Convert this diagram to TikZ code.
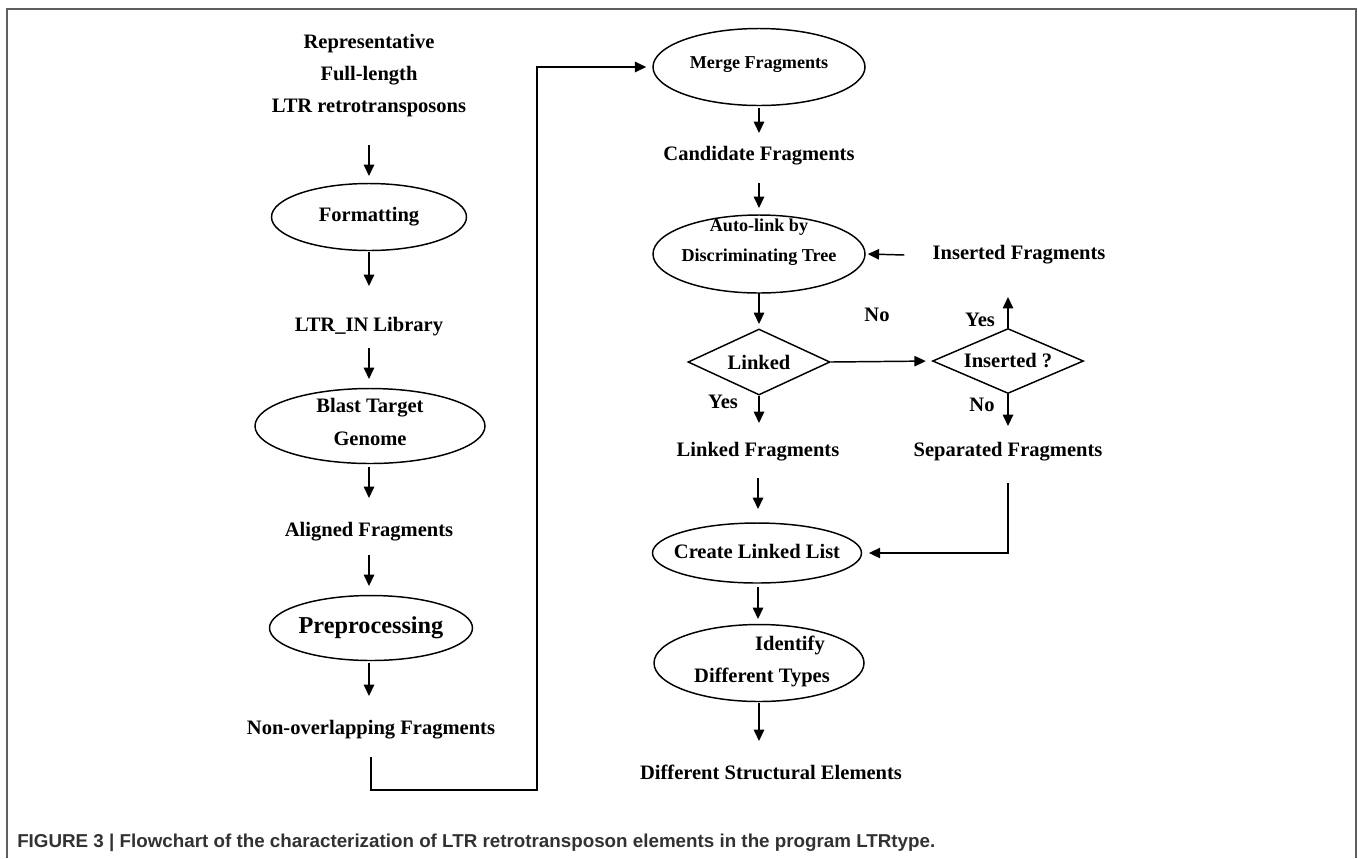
\documentclass[tikz,border=0pt]{standalone}
\usepackage{fontspec}
\setmainfont{Liberation Serif}
\setsansfont{Liberation Sans}
\usepackage{graphicx}
\usetikzlibrary{shapes.geometric,arrows.meta}
\definecolor{framegray}{RGB}{95,95,95}
\definecolor{capgray}{RGB}{50,50,50}
\begin{document}
\begin{tikzpicture}[x=0.75pt,y=-0.75pt,
  txt/.style={inner sep=0pt, align=center, font=\bfseries\fontsize{15.4}{24}\selectfont},
  smalltxt/.style={inner sep=0pt, align=center, font=\bfseries\fontsize{13.6}{20}\selectfont},
  bigtxt/.style={inner sep=0pt, align=center, font=\bfseries\fontsize{18.2}{24}\selectfont},
  ell/.style={draw, ellipse, line width=1.1pt, inner sep=0pt},
  dia/.style={draw, diamond, line width=1.1pt, inner sep=0pt},
  arr/.style={line width=1.1pt, -{Triangle[length=8.5pt,width=7.8pt]}},
  conn/.style={line width=1.1pt}]
\useasboundingbox (0,0) rectangle (1358,858);
\draw[framegray, line width=1.1pt] (7,858) -- (7,9) -- (1356,9) -- (1356,858);

% ---------- left column ----------
\node[txt] (rep) at (369,76) {Representative\\Full-length\\LTR retrotransposons};
\node[ell, minimum width=146.25pt, minimum height=50.25pt] (fmt) at (369,217) {};
\node[txt] (fmtT) at (fmt.center) {Formatting};
\node[txt] (lib) at (369,327) {LTR\_IN Library};
\node[ell, minimum width=172.5pt, minimum height=56.25pt] (blast) at (370,426) {};
\node[txt, font=\bfseries\fontsize{15.4}{24.75}\selectfont] (blastT) at (370,422) {Blast Target\\Genome};
\node[txt] (aligned) at (369,532) {Aligned Fragments};
\node[ell, minimum width=152.25pt, minimum height=48.75pt] (pre) at (371,628) {};
\node[bigtxt] (preT) at (pre.center) {Preprocessing};
\node[txt] (nonov) at (371,730) {Non-overlapping Fragments};

\draw[arr] (rep.south |- 0,145) -- (rep.south |- 0,176);
\draw[arr] (fmt.south |- 0,252) -- (fmt.south |- 0,286);
\draw[arr] (lib.south |- 0,348) -- (lib.south |- 0,379);
\draw[arr] (lib.south |- 0,467) -- (lib.south |- 0,498);
\draw[arr] (aligned.south |- 0,555) -- (aligned.south |- 0,586);
\draw[arr] (aligned.south |- 0,663) -- (aligned.south |- 0,696);

% ---------- right column ----------
\node[ell, minimum width=159pt, minimum height=57.75pt] (merge) at (759,67) {};
\node[smalltxt] (mergeT) at (759,65) {Merge Fragments};
\node[txt] (cand) at (759,156) {Candidate Fragments};
\node[ell, minimum width=159pt, minimum height=58.5pt] (auto) at (759,254) {};
\node[smalltxt] (autoT1) at (759,227) {Auto-link by};
\node[smalltxt] (autoT2) at (759,257) {Discriminating Tree};
\node[txt] (ins) at (1019,255) {Inserted Fragments};
\node[dia, minimum width=106.5pt, minimum height=49.5pt] (linked) at (759,362) {};
\node[txt] (linkedT) at (linked.center) {Linked};
\node[dia, minimum width=113.25pt, minimum height=48.75pt] (insq) at (1008,361) {};
\node[txt] (insqT) at (insq.center) {Inserted ?};
\node[txt] (no1) at (877,315) {No};
\node[txt] (yes1) at (723,402) {Yes};
\node[txt] (yes2) at (980,320) {Yes};
\node[txt] (no2) at (982,405) {No};
\node[txt] (linkfr) at (758,452) {Linked Fragments};
\node[txt] (sepfr) at (1008,452) {Separated Fragments};
\node[ell, minimum width=156.75pt, minimum height=45pt] (create) at (757,553) {};
\node[txt] (createT) at (757,551) {Create Linked List};
\node[ell, minimum width=157.5pt, minimum height=57.75pt] (ident) at (759,663) {};
\node[txt] (identT1) at (790,645) {Identify};
\node[txt] (identT2) at (762,677) {Different Types};
\node[txt] (dse) at (771,772) {Different Structural Elements};

\draw[arr] (merge.south |- 0,108) -- (merge.south |- 0,133);
\draw[arr] (cand.south |- 0,183) -- (cand.south |- 0,208);
\draw[arr] ([xshift=-21pt]ins.west) -- ([xshift=1.5pt]auto.east);
\draw[arr] (auto.south |- 0,293) -- (auto.south |- 0,324);
\draw[arr, shorten >=4.5pt] (linked.east) -- (insq.west);
\draw[arr] (insq.north) -- (insq.north |- 0,297);
\draw[arr] (insq.south) -- (insq.south |- 0,426);
\draw[arr] (linked.south) -- (linked.south |- 0,423);
\draw[arr] (linkfr.south |- 0,478) -- (linkfr.south |- 0,509);
\draw[arr, shorten >=5pt] (sepfr.south |- 0,483) |- (create.east);
\draw[arr] (linkfr.south |- 0,587) -- (linkfr.south |- 0,619);
\draw[arr] (ident.south |- 0,703) -- (ident.south |- 0,741);

% ---------- connector from left to right column ----------
\draw[arr, shorten >=4.5pt] (nonov.south |- 0,757) |- (537,790) |- (merge.west);

% ---------- caption ----------
\node[anchor=west, inner sep=0pt, text=capgray, font=\sffamily\bfseries\fontsize{14}{16}\selectfont] (cap) at (17,843)
  {\resizebox{688.5pt}{\height}{FIGURE 3 | Flowchart of the characterization of LTR retrotransposon elements in the program LTRtype.}};
\end{tikzpicture}
\end{document}
